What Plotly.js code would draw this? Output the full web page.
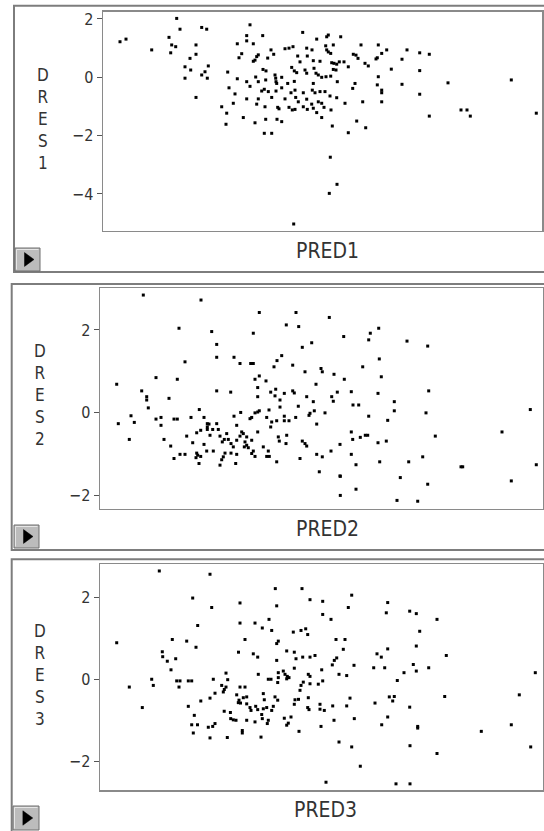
<!DOCTYPE html>
<html>
<head>
<meta charset="utf-8">
<script src="https://cdn.plot.ly/plotly-3.0.1.min.js"></script>
<style>html,body{margin:0;padding:0;background:#fff;}#chart{width:544px;height:831px;}</style>
</head>
<body>
<div id="chart"></div>
<script>
// ---- data: [PRED, DRES] pairs ----
const pred1Dres1 = [
[1.7,1.22],[2.3,1.31],[4.87,0.94],[7.37,2.02],[7.7,1.65],[6.6,1.37],[6.87,1.11],[7.27,1.05],[6.77,0.84],[9.87,1.71],[10.37,1.65],[9.3,1.11],[9.3,0.79],[8.7,0.65],[8.2,0.36],[8.77,0.25],[10.53,0.39],[10.2,0.19],[9.87,0.08],[10.43,-0.03],[8.2,-0.03],[9.3,-0.69],
[14.7,1.80],[14.37,1.43],[15.97,1.43],[14.37,1.25],[13.43,1.15],[15.03,1.15],[18.6,1.00],[18.2,0.98],[19.0,1.05],[16.8,0.94],[13.87,0.81],[13.6,0.67],[15.53,0.77],[15.37,0.71],[15.2,0.59],[15.03,0.55],[16.47,0.66],[17.07,0.79],[19.47,0.73],[18.87,0.34],[19.13,0.22],[19.37,0.16],[16.0,0.27],[16.3,0.22],[12.47,0.18],[17.2,0.08],[17.27,-0.03],[17.3,-0.15],[17.37,-0.21],[15.27,0.01],[15.53,-0.15],[16.27,-0.09],[17.87,0],[13.43,-0.05],[14.37,-0.15],[14.7,-0.31],[18.47,-0.21],[19.13,-0.14],[12.6,-0.36],[17.87,-0.36],[15.87,-0.47],[16.13,-0.41],[16.53,-0.49],[17.3,-0.47],[18.8,-0.53],[19.2,-0.44],[13.2,-0.57],[15.53,-0.74],[16.87,-0.69],[18.2,-0.74],[14.37,-0.74],[19.27,-0.69],[19.53,-0.84],[13.03,-0.89],[15.37,-0.92],[16.2,-1.01],[11.87,-1.01],[17.47,-1.03],[17.6,-1.08],[18.6,-1.03],[18.93,-1.12],[19.2,-1.10],[14.03,-1.38],[15.2,-1.56],[16.27,-1.44],[17.4,-1.44],[17.87,-1.52],[12.37,-1.23],[12.3,-1.61],[16.13,-1.92],[16.87,-1.92],
[19.97,1.54],[21.37,1.31],[22.37,1.39],[22.53,1.45],[23.77,1.39],[20.37,1.00],[20.9,0.94],[22.27,1.08],[23.03,1.11],[22.37,0.94],[22.53,0.87],[22.77,0.82],[25.8,1.11],[27.53,1.11],[27.87,0.82],[28.37,0.94],[25.03,0.79],[25.3,0.76],[25.5,0.65],[20.43,0.73],[19.7,0.53],[21.03,0.57],[21.7,0.55],[22.87,0.50],[23.1,0.48],[23.37,0.45],[23.63,0.53],[24.1,0.53],[24.53,0.36],[26.2,0.48],[26.53,0.39],[27.3,0.63],[27.43,0.67],[20.2,0.25],[20.37,0.14],[21.1,0.31],[21.3,0.14],[21.53,0.08],[21.87,0],[22.3,0.02],[23.03,0.27],[23.3,0.25],[22.77,0.04],[21.03,-0.21],[23.43,-0.15],[25.2,-0.21],[24.97,-0.38],[27.53,0.02],[27.43,-0.26],[27.87,-0.44],[27.87,-0.53],[20.03,-0.53],[20.37,-0.75],[20.93,-0.44],[21.2,-0.53],[21.7,-0.49],[22.2,-0.49],[22.7,-0.64],[23.37,-0.70],[21.53,-0.84],[21.87,-0.89],[22.1,-1.03],[20.87,-0.92],[21.03,-1.06],[20.03,-1.01],[20.43,-1.10],[25.97,-0.84],[24.2,-0.89],[27.87,-0.84],[21.37,-1.21],[21.87,-1.38],[22.8,-1.12],[22.93,-1.67],[25.37,-1.50],[26.27,-1.73],[24.53,-1.90],
[28.83,0.28],[30.4,0.94],[29.9,0.62],[31.67,0.84],[32.63,0.79],[31.67,0.23],[29.9,-0.24],[31.67,-0.58],[34.5,-0.19],[32.63,-1.33],[35.8,-1.12],[36.4,-1.12],[36.73,-1.33],[40.83,-0.09],[43.33,-1.23],[22.73,-2.74],[23.4,-3.67],[22.63,-3.98],[19.07,-5.03]
];
const pred2Dres2 = [
[4.33,2.84],[10.1,2.72],[15.93,2.42],[7.9,2.04],[11.17,1.96],[15.33,1.92],[11.67,1.65],[11.67,1.34],[13.4,1.34],[14.0,1.19],[15.07,1.19],[15.33,1.19],[8.5,1.23],
[1.67,0.69],[5.6,0.85],[7.73,0.81],[4.17,0.53],[4.67,0.39],[4.67,0.31],[6.9,0.35],[4.83,0.12],[11.67,0.53],[1.83,-0.26],[3.1,-0.07],[3.43,-0.23],[2.93,-0.64],[5.6,-0.15],[6.1,-0.11],[6.1,-0.30],[7.4,-0.15],[7.73,-0.15],[9.1,-0.11],[9.93,0.08],[10.4,-0.11],[6.4,-0.64],[7.07,-0.80],[7.4,-1.10],[8.0,-1.00],[8.5,-1.00],[8.67,-0.56],[9.27,-0.72],[9.67,-0.48],[10.07,-0.42],[10.73,-0.26],[10.73,-0.34],[10.73,-0.40],[10.9,-0.27],[11.27,-0.40],[11.0,-0.54],[10.4,-0.76],[10.67,-0.92],[11.33,-0.92],[9.67,-0.97],[9.77,-1.02],[9.6,-1.08],[10.07,-1.05],[9.9,-1.22],
[18.17,1.38],[17.7,1.26],[17.4,1.11],[19.27,1.15],[20.5,0.99],[22.1,1.07],[22.23,0.99],[23.4,0.93],[21.17,1.69],[20.23,1.58],[15.5,0.81],[15.93,0.89],[16.6,0.77],[15.77,0.61],[15.77,0.39],[13.07,0.50],[17.07,0.50],[17.57,0.57],[17.5,0.41],[18.0,0.31],[18.43,0.47],[19.27,0.53],[19.43,0.48],[20.67,0.39],[21.6,0.69],[23.17,0.39],[23.33,0.28],[23.73,0.50],[21.33,0.27],[19.83,0.16],[18.0,0.14],[14.07,0.01],[13.4,-0.08],[15.0,-0.14],[15.17,-0.11],[15.5,0],[15.77,0.02],[15.93,0.05],[16.9,0.07],[16.67,-0.11],[17.17,-0.22],[17.07,-0.34],[17.67,-0.19],[18.43,-0.08],[18.43,-0.19],[18.9,-0.19],[19.57,-0.11],[20.9,-0.06],[21.0,-0.01],[21.43,0.05],[22.5,0],[21.67,-0.27],[11.67,-0.26],[11.83,-0.40],[12.0,-0.56],[12.67,-0.50],[12.83,-0.64],[12.43,-0.64],[12.23,-0.70],[13.67,-0.30],[14.17,-0.46],[14.33,-0.50],[14.0,-0.56],[14.67,-0.58],[14.5,-0.70],[14.67,-0.78],[14.43,-0.82],[14.83,-0.84],[15.17,-0.66],[13.1,-0.74],[13.33,-0.82],[13.67,-0.66],[15.77,-0.46],[16.33,-0.82],[17.83,-0.58],[17.93,-0.68],[18.67,-0.54],[18.6,-0.74],[20.23,-0.68],[20.5,-0.74],[20.67,-0.80],[20.0,-1.10],[15.33,-0.92],[15.17,-0.98],[15.5,-1.05],[16.83,-0.92],[16.67,-1.05],[16.93,-1.05],[17.67,-1.18],[12.5,-0.97],[13.1,-0.97],[12.33,-1.06],[12.17,-1.13],[12.0,-1.26],[13.67,-1.00],[13.57,-1.22],[21.67,-1.00],[22.23,-1.06],[23.1,-0.92],[24.0,-0.76],[21.93,-1.42],[24.0,-1.52],
[19.6,2.42],[22.93,2.30],[18.63,2.12],[19.87,2.08],[24.37,1.84],[27.03,1.92],[27.87,2.04],[26.87,1.76],[30.7,1.73],[32.77,1.61],[27.93,1.30],[24.43,0.81],[26.27,1.11],[28.13,0.87],[32.87,0.53],[25.13,0.51],[27.8,0.47],[25.3,0.19],[25.87,0.19],[29.43,0.27],[29.43,0.05],[26.87,-0.08],[28.77,-0.18],[32.6,0],[33.53,-0.56],[43.03,0.08],[40.2,-0.46],[36.1,-1.30],[36.27,-1.30],[43.63,-1.25],[41.13,-1.64],[25.13,-0.46],[25.27,-0.64],[26.03,-0.59],[26.53,-0.54],[26.77,-0.54],[27.8,-0.72],[28.63,-0.68],[25.13,-1.00],[25.6,-1.25],[24.03,-1.53],[24.03,-1.99],[25.6,-1.84],[27.97,-1.18],[30.87,-1.18],[32.27,-1.06],[30.03,-1.56],[32.77,-1.72],[29.7,-2.11],[31.77,-2.13]
];
const pred3Dres3 = [
[5.93,2.65],[11.0,2.57],[9.27,1.99],[11.17,1.76],[14.0,1.87],[14.0,1.38],[15.5,1.38],[9.77,1.32],[1.67,0.90],[7.23,0.98],[8.67,0.94],[9.6,0.79],[14.5,0.98],[6.23,0.68],[6.27,0.56],[6.73,0.45],[7.57,0.51],[7.1,0.24],[13.85,0.67],[5.17,0.01],[5.33,-0.14],[2.93,-0.18],[7.67,-0.03],[8.0,-0.03],[7.9,-0.18],[8.83,-0.03],[9.17,-0.03],[4.23,-0.68],[11.33,0.01],[12.6,0.16],[12.77,0.00],[12.17,-0.14],[12.6,-0.18],[12.43,-0.24],[12.33,-0.30],[11.5,-0.33],[11.0,-0.45],[10.08,-0.52],[13.67,-0.37],[13.83,-0.56],[8.83,-0.65],[9.43,-0.87],[12.42,-0.77],[13.04,-0.80],[13.07,-0.95],[13.33,-0.98],[13.6,-0.99],[9.17,-1.10],[9.75,-1.10],[10.83,-1.16],[11.27,-1.14],[11.5,-1.07],[9.33,-1.30],[11.0,-1.42],[12.73,-1.41],
[17.67,1.80],[21.0,1.95],[22.27,1.91],[22.27,1.59],[23.1,1.47],[25.17,2.06],[24.83,1.76],[16.9,1.47],[16.23,1.26],[17.17,1.20],[19.33,1.16],[20.1,1.20],[20.57,1.24],[20.77,1.10],[17.83,0.94],[17.67,0.88],[23.6,0.98],[24.5,0.98],[24.33,0.74],[15.33,0.63],[15.77,0.55],[18.67,0.70],[19.43,0.67],[17.67,0.47],[19.6,0.51],[20.27,0.55],[21.0,0.55],[21.5,0.59],[23.43,0.47],[23.67,0.53],[23.23,0.36],[25.4,0.35],[19.43,0.28],[22.17,0.24],[17.83,0.17],[18.33,0.21],[18.5,0.13],[18.73,0.08],[18.9,0.05],[15.83,0.13],[16.83,0.01],[17.1,0.01],[17.83,0.05],[17.77,-0.07],[18.67,0.02],[20.83,0.13],[21.0,0.08],[23.9,0.13],[24.67,0.10],[20.33,-0.06],[20.1,-0.14],[20.0,-0.26],[21.0,-0.10],[21.83,-0.11],[22.27,-0.03],[14.0,-0.18],[14.5,-0.18],[13.9,-0.50],[14.33,-0.44],[14.05,-0.57],[14.67,-0.42],[14.67,-0.59],[15.0,-0.68],[15.1,-0.75],[15.57,-0.65],[15.77,-0.73],[16.33,-0.34],[16.43,-0.49],[16.33,-0.71],[16.67,-0.68],[16.17,-0.85],[16.23,-0.95],[16.83,-0.99],[16.73,-1.07],[17.33,-0.65],[17.17,-0.75],[17.5,-0.42],[17.77,-0.50],[15.5,-1.03],[14.67,-0.99],[14.23,-1.24],[14.23,-1.30],[16.1,-1.40],[18.43,-0.94],[19.1,-0.91],[18.83,-1.06],[18.67,-1.11],[19.5,-0.49],[19.85,-0.48],[19.43,-0.60],[20.83,-0.44],[20.77,-0.68],[20.9,-0.73],[22.0,-0.60],[22.0,-0.72],[22.43,-0.75],[23.27,-0.64],[23.4,-0.99],[24.67,-0.64],[25.0,-0.45],[25.43,-0.95],[19.9,-1.26],[22.1,-1.14],[23.9,-1.52],[25.17,-1.64],
[17.53,2.22],[20.2,2.22],[28.77,1.88],[28.63,1.63],[30.97,1.67],[31.63,1.61],[33.7,1.47],[31.97,1.18],[31.63,0.82],[34.63,0.59],[28.77,0.75],[27.7,0.63],[28.13,0.55],[27.37,0.29],[28.47,0.29],[30.4,0.17],[31.33,0.37],[31.63,0.21],[32.87,0.29],[29.73,-0.02],[34.47,-0.41],[43.53,0.17],[41.93,-0.37],[41.13,-1.10],[38.13,-1.26],[43.07,-1.64],[27.5,-0.57],[28.93,-0.42],[29.27,-0.52],[29.43,-0.41],[30.97,-0.67],[28.77,-0.91],[28.17,-1.10],[31.77,-1.14],[31.77,-1.18],[31.0,-1.61],[33.7,-1.80],[26.03,-2.11],[22.6,-2.50],[29.6,-2.54],[31.0,-2.54]
];
const xLabels = ['PRED1', 'PRED2', 'PRED3'];
const yLabels = ['DRES1', 'DRES2', 'DRES3'];
const yTicks = [[-4, -2, 0, 2], [-2, 0, 2], [-2, 0, 2]];

// ---- layout geometry (pixels) ----
const W = 544, H = 831;
const px = x => x / W, py = y => 1 - y / H;
const FONT = 'Liberation Sans Narrow, DejaVu Sans Condensed, Arial Narrow, sans-serif';
const geo = [
  {plot:[103,542,11.7,230.7], yr:[-5.26,2.25], xr:[0,43.9], frame:[14,570,5.7,272], lx:42.5, lyc:118.5, xlx:327, xly:251, btn:[15,248,40,271]},
  {plot:[100,542.7,288,508.7], yr:[-2.31,3.01], xr:[0,44.27], frame:[11.7,570,284,550], lx:40, lyc:395, xlx:327, xly:528.5, btn:[14,525,39,548]},
  {plot:[100,542.7,564,790], yr:[-2.69,2.82], xr:[0,44.27], frame:[11.7,570,559.3,860], lx:40, lyc:674.5, xlx:325.5, xly:810, btn:[13,806,39,830]}
];
const series = [pred1Dres1, pred2Dres2, pred3Dres3];

const data = [], shapes = [], annotations = [];
const layout = {
  width: W, height: H, margin: {l:0, r:0, t:0, b:0},
  paper_bgcolor: '#fff', plot_bgcolor: '#fff', showlegend: false,
  shapes: shapes, annotations: annotations
};

geo.forEach((g, i) => {
  const n = i === 0 ? '' : String(i + 1);
  const pts = series[i];
  data.push({
    type: 'scatter', mode: 'markers',
    x: pts.map(p => p[0]), y: pts.map(p => p[1]),
    xaxis: 'x' + n, yaxis: 'y' + n,
    marker: {symbol: 'square', size: 3, color: '#000', line: {width: 0}},
    hoverinfo: 'skip', cliponaxis: false
  });
  layout['xaxis' + n] = {
    domain: [px(g.plot[0]), px(g.plot[1])], range: g.xr, anchor: 'y' + n,
    showgrid: false, zeroline: false, showticklabels: false, ticks: '',
    showline: true, mirror: true, linecolor: '#8a8a8a', linewidth: 1.5, fixedrange: true
  };
  layout['yaxis' + n] = {
    domain: [py(g.plot[3]), py(g.plot[2])], range: g.yr, anchor: 'x' + n,
    showgrid: false, zeroline: false, tickvals: yTicks[i],
    ticks: 'outside', ticklen: 5, tickwidth: 1, tickcolor: '#555',
    tickfont: {family: FONT, size: 16, color: '#333'},
    showline: true, mirror: true, linecolor: '#8a8a8a', linewidth: 1.5, fixedrange: true
  };
  // outer window frame
  shapes.push({type:'rect', xref:'paper', yref:'paper', layer:'below',
    x0: px(g.frame[0]), x1: px(g.frame[1]), y0: py(g.frame[3]), y1: py(g.frame[2]),
    line: {color:'#7d7d7d', width: 2}, fillcolor: '#fff'});
  // play button
  const b = g.btn;
  shapes.push({type:'rect', xref:'paper', yref:'paper',
    x0: px(b[0]), x1: px(b[2]), y0: py(b[3]), y1: py(b[1]),
    line: {color:'#6e6e6e', width: 1}, fillcolor: '#bcbcbc'});
  shapes.push({type:'path', xref:'paper', yref:'paper',
    path: 'M' + px(b[0]+1.5) + ',' + py(b[3]-1.5) + ' L' + px(b[0]+1.5) + ',' + py(b[1]+1.5) + ' L' + px(b[2]-1.5) + ',' + py(b[1]+1.5),
    line: {color:'#e6e6e6', width: 1}});
  const bw = b[2] - b[0], bh = b[3] - b[1];
  shapes.push({type:'path', xref:'paper', yref:'paper',
    path: 'M' + px(b[0]+bw*0.38) + ',' + py(b[1]+bh*0.2) + ' L' + px(b[0]+bw*0.38) + ',' + py(b[1]+bh*0.8) +
          ' L' + px(b[0]+bw*0.76) + ',' + py(b[1]+bh*0.5) + ' Z',
    fillcolor: '#000', line: {color:'#000', width: 0.5}});
  // x label
  annotations.push({xref:'paper', yref:'paper', x: px(g.xlx), y: py(g.xly),
    xanchor:'center', yanchor:'middle', showarrow:false, text: xLabels[i],
    font: {family: FONT, size: 21, color: '#333'}});
  // stacked y label (one text, one letter per line)
  annotations.push({xref:'paper', yref:'paper', x: px(g.lx), y: py(g.lyc),
    xanchor:'center', yanchor:'middle', showarrow:false, align:'center',
    text: yLabels[i].split('').join('<br>'),
    font: {family: FONT, size: 17, color: '#333'}});
});

Plotly.newPlot('chart', data, layout, {staticPlot: true, displayModeBar: false});
</script>
</body>
</html>
